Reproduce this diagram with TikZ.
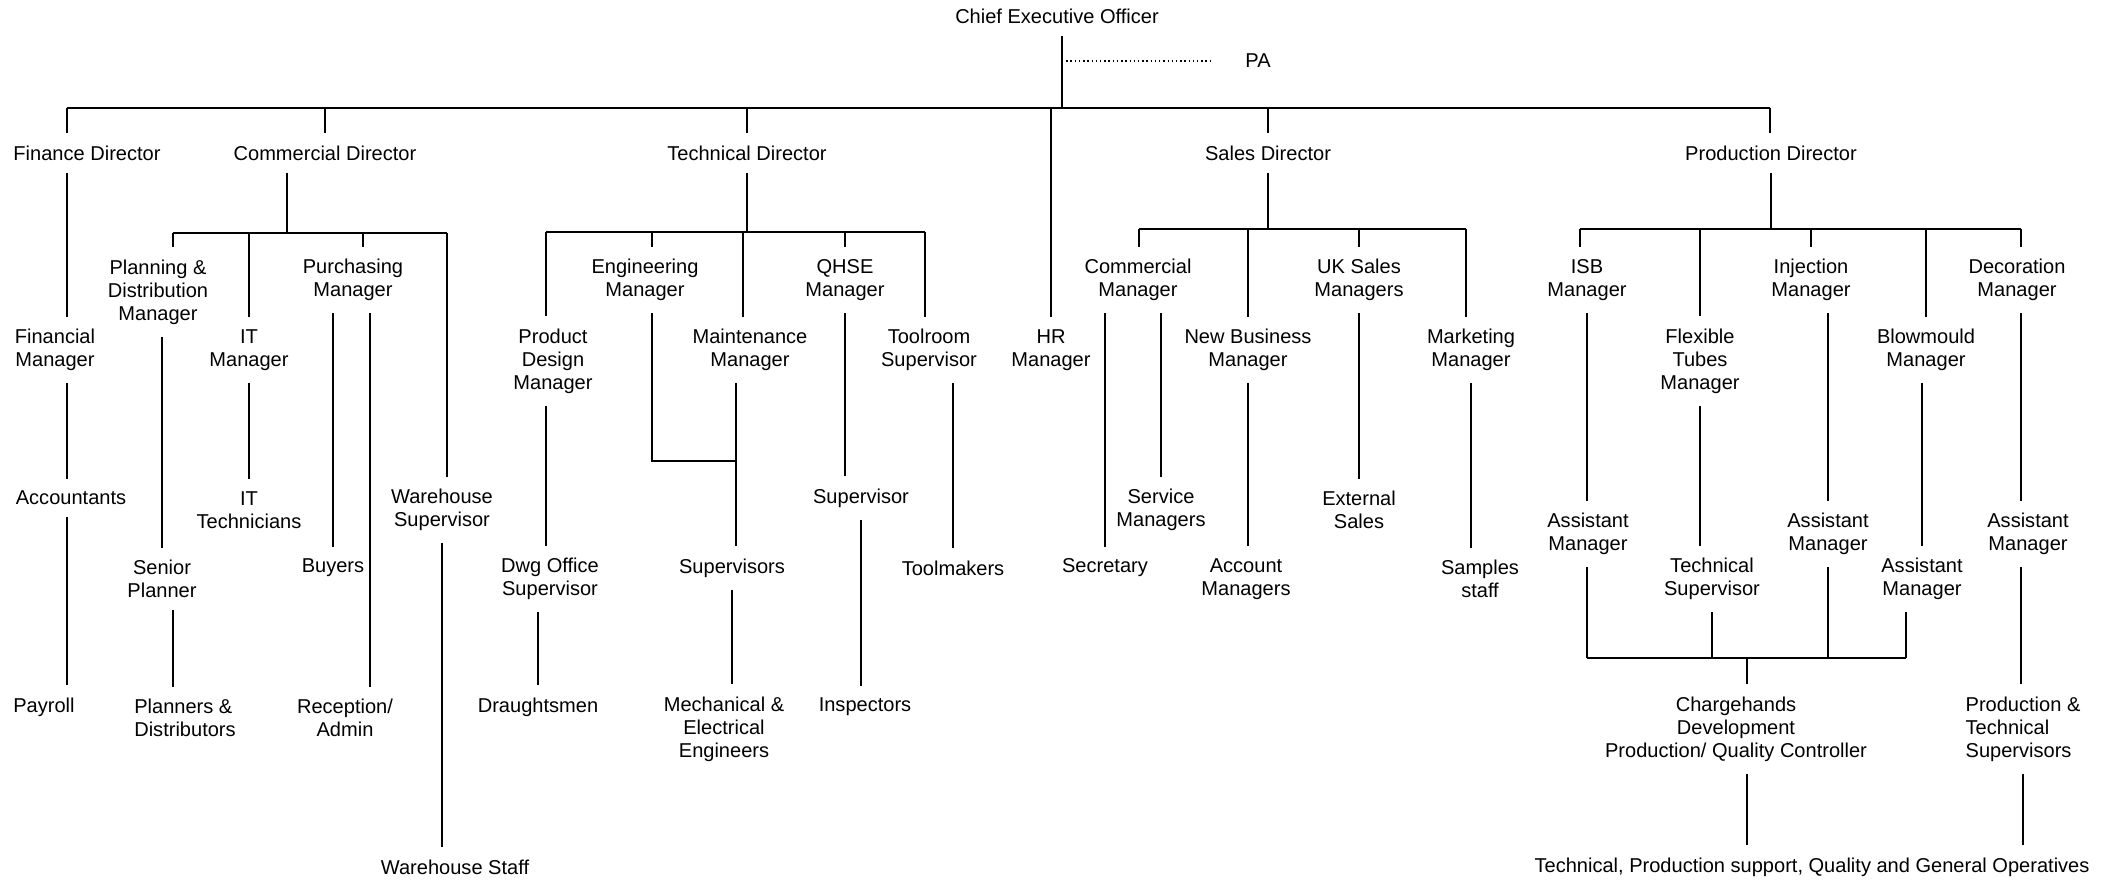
\documentclass[tikz,border=0pt]{standalone}
\usepackage{fontspec}
\setmainfont{Liberation Sans}
\usetikzlibrary{calc}
\tikzset{%
    lblsty/.style={
        align=center,
        inner sep=1pt,
        outer sep=2.5pt,
        font=\fontsize{5.7}{6.5}\selectfont,
    },
    linesty/.style={
        line width=0.45pt,
    },
    barsty/.style={
        line width=0.65pt,
    },
    dotsty/.style={
        line width=0.4pt,
        dash pattern=on 0.4pt off 0.8pt,
    },
}

\begin{document}
\begin{tikzpicture}[x=0.01cm, y=-0.01cm]
\useasboundingbox (0,0) rectangle (2116,880);

% board
\node (ceo) [lblsty] at (1057,16) {Chief Executive Officer};
\node (pa) [lblsty] at (1258,61) {PA};
\node (fd) [lblsty] at (87,153) {Finance Director};
\node (cd) [lblsty] at (325,153) {Commercial Director};
\node (td) [lblsty] at (747,153) {Technical Director};
\node (hr) [lblsty] at (1051,350) {HR\\Manager};
\node (sd) [lblsty] at (1268,153) {Sales Director};
\node (pd) [lblsty] at (1771,153) {Production Director};

% finance
\node (fm) [lblsty] at (55,350) {Financial\\Manager};
\node (acc) [lblsty] at (71,498) {Accountants};
\node (pay) [lblsty] at (44,707) {Payroll};

% commercial
\node (pdm) [lblsty] at (158,292) {Planning \&\\Distribution\\Manager};
\node (itm) [lblsty] at (249,350) {IT\\Manager};
\node (pm) [lblsty] at (353,280) {Purchasing\\Manager};
\node (whs) [lblsty] at (442,510) {Warehouse\\Supervisor};
\node (sp) [lblsty] at (162,579) {Senior\\Planner};
\node (pld) [lblsty,align=left] at (185,718) {Planners \&\\Distributors};
\node (itt) [lblsty] at (249,510) {IT\\Technicians};
\node (buy) [lblsty] at (333,568) {Buyers};
\node (rec) [lblsty] at (345,718) {Reception/\\Admin};
\node (whst) [lblsty] at (455,867) {Warehouse Staff};

% technical
\node (pdes) [lblsty] at (553,361) {Product\\Design\\Manager};
\node (eng) [lblsty] at (645,280) {Engineering\\Manager};
\node (mnt) [lblsty] at (750,350) {Maintenance\\Manager};
\node (qhse) [lblsty] at (845,280) {QHSE\\Manager};
\node (tool) [lblsty] at (929,350) {Toolroom\\Supervisor};
\node (dwg) [lblsty] at (550,579) {Dwg Office\\Supervisor};
\node (dra) [lblsty] at (538,707) {Draughtsmen};
\node (sups) [lblsty] at (732,568) {Supervisors};
\node (mech) [lblsty] at (724,729) {Mechanical \&\\Electrical\\Engineers};
\node (sup) [lblsty] at (861,498) {Supervisor};
\node (insp) [lblsty] at (865,707) {Inspectors};
\node (tmk) [lblsty] at (953,568) {Toolmakers};

% sales
\node (cm) [lblsty] at (1138,280) {Commercial\\Manager};
\node (nb) [lblsty] at (1248,350) {New Business\\Manager};
\node (uk) [lblsty] at (1359,280) {UK Sales\\Managers};
\node (mkt) [lblsty] at (1471,350) {Marketing\\Manager};
\node (sec) [lblsty] at (1105,568) {Secretary};
\node (svc) [lblsty] at (1161,510) {Service\\Managers};
\node (acm) [lblsty] at (1246,579) {Account\\Managers};
\node (ext) [lblsty] at (1359,510) {External\\Sales};
\node (smp) [lblsty] at (1480,579) {Samples\\staff};

% production
\node (isb) [lblsty] at (1587,280) {ISB\\Manager};
\node (flex) [lblsty] at (1700,361) {Flexible\\Tubes\\Manager};
\node (inj) [lblsty] at (1811,280) {Injection\\Manager};
\node (blow) [lblsty] at (1926,350) {Blowmould\\Manager};
\node (dec) [lblsty] at (2017,280) {Decoration\\Manager};
\node (am1) [lblsty] at (1588,534) {Assistant\\Manager};
\node (ts) [lblsty] at (1712,579) {Technical\\Supervisor};
\node (am2) [lblsty] at (1828,534) {Assistant\\Manager};
\node (am3) [lblsty] at (1922,579) {Assistant\\Manager};
\node (am4) [lblsty] at (2028,534) {Assistant\\Manager};
\node (chg) [lblsty] at (1736,729) {Chargehands\\Development\\Production/ Quality Controller};
\node (pts) [lblsty,align=left] at (2023,729) {Production \&\\Technical\\Supervisors};
\node (ops) [lblsty] at (1812,867) {Technical, Production support, Quality and General Operatives};

% bar ends and line positions
\coordinate (top) at (1062,108);
\coordinate (topL) at (67,108);
\coordinate (topR) at (1770,108);
\coordinate (cbar) at (287,233);
\coordinate (cbarL) at (173,233);
\coordinate (cbarP) at (363,233);
\coordinate (cbarR) at (447,233);
\coordinate (xrec) at (370,233);
\coordinate (tbarL) at (546,232);
\coordinate (tbarE) at (652,232);
\coordinate (tbarM) at (743,232);
\coordinate (tbarR) at (925,232);
\coordinate (ejoin) at (736,461);
\coordinate (sbarL) at (1139,229);
\coordinate (sbarR) at (1466,229);
\coordinate (pbarL) at (1580,229);
\coordinate (pbarR) at (2021,229);
\coordinate (mbarL) at (1587,658);
\coordinate (mbarR) at (1906,658);
\coordinate (mjoin) at (1747,658);

% board lines
\draw[barsty] (topL) -- (topR);
\draw[linesty] (ceo.south -| top) -- (top);
\draw[dotsty] (top |- pa) -- ($(pa.west)+(-20,0)$);
\draw[linesty] (topL) -- (topL |- fd.north);
\draw[linesty] (cd.north |- top) -- (cd.north);
\draw[linesty] (td.north |- top) -- (td.north);
\draw[linesty] (hr.north |- top) -- (hr.north);
\draw[linesty] (sd.north |- top) -- (sd.north);
\draw[linesty] (topR) -- (topR |- pd.north);

% finance lines
\draw[linesty] (topL |- fd.south) -- (topL |- fm.north);
\draw[linesty] (topL |- fm.south) -- (topL |- acc.north);
\draw[linesty] (topL |- acc.south) -- (topL |- pay.north);

% commercial lines
\draw[linesty] (cbar |- cd.south) -- (cbar);
\draw[barsty] (cbarL) -- (cbarR);
\draw[linesty] (cbarL) -- (cbarL |- pdm.north);
\draw[linesty] (itm.north |- cbarL) -- (itm.north);
\draw[linesty] (cbarP) -- (cbarP |- pm.north);
\draw[linesty] (cbarR) -- (cbarR |- whs.north);
\draw[linesty] (sp.north |- pdm.south) -- (sp.north);
\draw[linesty] (cbarL |- sp.south) -- (cbarL |- pld.north);
\draw[linesty] (itm.south) -- (itt.north);
\draw[linesty] (buy.north |- pm.south) -- (buy.north);
\draw[linesty] (xrec |- pm.south) -- (xrec |- rec.north);
\draw[linesty] (whs.south) -- (whs.south |- whst.north);

% technical lines
\draw[linesty] (td.south) -- (td.south |- tbarL);
\draw[barsty] (tbarL) -- (tbarR);
\draw[linesty] (tbarL) -- (tbarL |- pdes.north);
\draw[linesty] (tbarE) -- (tbarE |- eng.north);
\draw[linesty] (tbarM) -- (tbarM |- mnt.north);
\draw[linesty] (qhse.north |- tbarL) -- (qhse.north);
\draw[linesty] (tbarR) -- (tbarR |- tool.north);
\draw[linesty] (tbarL |- pdes.south) -- (tbarL |- dwg.north);
\draw[linesty] (dra.north |- dwg.south) -- (dra.north);
\draw[linesty] (tbarE |- eng.south) |- (ejoin);
\draw[linesty] (ejoin |- mnt.south) -- (ejoin |- sups.north);
\draw[linesty] (sups.south) -- (sups.south |- mech.north);
\draw[linesty] (qhse.south) -- (qhse.south |- sup.north);
\draw[linesty] (sup.south) -- (sup.south |- insp.north);
\draw[linesty] (tmk.north |- tool.south) -- (tmk.north);

% sales lines
\draw[linesty] (sd.south) -- (sd.south |- sbarL);
\draw[barsty] (sbarL) -- (sbarR);
\draw[linesty] (sbarL) -- (sbarL |- cm.north);
\draw[linesty] (nb.north |- sbarL) -- (nb.north);
\draw[linesty] (uk.north |- sbarL) -- (uk.north);
\draw[linesty] (sbarR) -- (sbarR |- mkt.north);
\draw[linesty] (sec.north |- cm.south) -- (sec.north);
\draw[linesty] (svc.north |- cm.south) -- (svc.north);
\draw[linesty] (nb.south) -- (nb.south |- acm.north);
\draw[linesty] (uk.south) -- (ext.north);
\draw[linesty] (mkt.south) -- (mkt.south |- smp.north);

% production lines
\draw[linesty] (pd.south) -- (pd.south |- pbarL);
\draw[barsty] (pbarL) -- (pbarR);
\draw[linesty] (pbarL) -- (pbarL |- isb.north);
\draw[linesty] (flex.north |- pbarL) -- (flex.north);
\draw[linesty] (inj.north |- pbarL) -- (inj.north);
\draw[linesty] (blow.north |- pbarL) -- (blow.north);
\draw[linesty] (pbarR) -- (pbarR |- dec.north);
\draw[linesty] (isb.south) -- (isb.south |- am1.north);
\draw[linesty] (flex.south) -- (flex.south |- ts.north);
\draw[linesty] (am2.north |- inj.south) -- (am2.north);
\draw[linesty] (am3.north |- blow.south) -- (am3.north);
\draw[linesty] (pbarR |- dec.south) -- (pbarR |- am4.north);
\draw[barsty] (mbarL) -- (mbarR);
\draw[linesty] (mbarL |- am1.south) -- (mbarL);
\draw[linesty] (ts.south) -- (ts.south |- mbarL);
\draw[linesty] (am2.south) -- (am2.south |- mbarL);
\draw[linesty] (mbarR |- am3.south) -- (mbarR);
\draw[linesty] (mjoin) -- (mjoin |- chg.north);
\draw[linesty] (mjoin |- chg.south) -- (mjoin |- ops.north);
\draw[linesty] (pbarR |- am4.south) -- (pbarR |- pts.north);
\draw[linesty] (pts.south) -- (pts.south |- ops.north);

\end{tikzpicture}
\end{document}
